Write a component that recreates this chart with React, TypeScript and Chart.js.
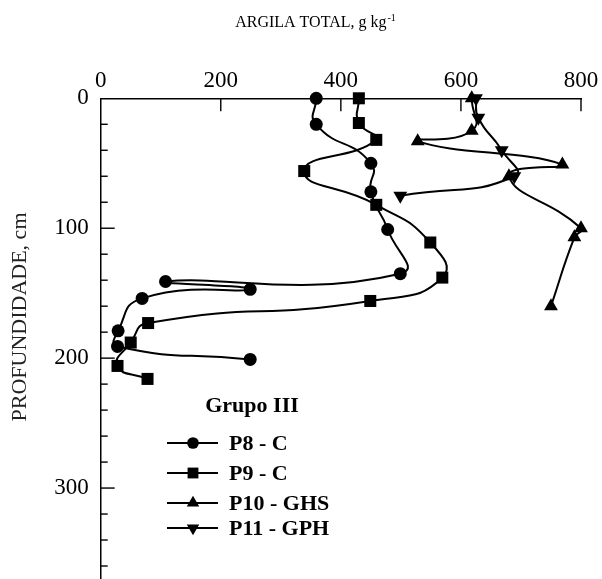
import React, { useEffect, useRef } from "react";
import { Chart, registerables } from "chart.js";

Chart.register(...registerables);

const P8_X = [359, 359, 450, 450, 478, 499, 108, 249, 69, 29, 28, 249];
const P8_Y = [0, 20, 50, 72, 101, 135, 141, 147, 154, 179, 191, 201];
const P9_X = [430, 430, 459, 339, 459, 549, 569, 449, 79, 50, 28, 78];
const P9_Y = [0, 19, 32, 56, 82, 111, 138, 156, 173, 188, 206, 216];
const P10_X = [618, 618, 528, 769, 680, 800, 789, 750];
const P10_Y = [0, 25, 33, 51, 60, 100, 107, 160];
const P11_X = [625, 629, 668, 689, 499];
const P11_Y = [0, 15, 40, 60, 75];

const SERIES_LABELS = ["P8 - C", "P9 - C", "P10 - GHS", "P11 - GPH"];
const LEGEND_TITLE = "Grupo III";
const X_TITLE = "ARGILA TOTAL, g kg";
const X_TITLE_SUP = "-1";
const Y_TITLE = "PROFUNDIDADE, cm";
const X_MAJOR_TICKS = [0, 200, 400, 600, 800];
const Y_MAJOR_TICKS = [0, 100, 200, 300];

const FONT = '"Liberation Serif", "Times New Roman", serif';

const toPoints = (xs: number[], ys: number[]) => xs.map((x, i) => ({ x, y: ys[i] }));

const styles = [
  { pointStyle: "circle", radius: 6.5, rotation: 0 },
  { pointStyle: "rect", radius: 8.5, rotation: 0 },
  { pointStyle: "triangle", radius: 8, rotation: 0 },
  { pointStyle: "triangle", radius: 8, rotation: 180 },
];

function drawMarker(ctx: CanvasRenderingContext2D, style: string, r: number, rot: number, x: number, y: number) {
  ctx.beginPath();
  if (style === "circle") {
    ctx.arc(x, y, r, 0, Math.PI * 2);
  } else if (style === "rect") {
    const s = r * Math.SQRT1_2;
    ctx.rect(x - s, y - s, 2 * s, 2 * s);
  } else {
    let rad = (rot * Math.PI) / 180;
    ctx.moveTo(x + Math.sin(rad) * r, y - Math.cos(rad) * r);
    rad += (2 * Math.PI) / 3;
    ctx.lineTo(x + Math.sin(rad) * r, y - Math.cos(rad) * r);
    rad += (2 * Math.PI) / 3;
    ctx.lineTo(x + Math.sin(rad) * r, y - Math.cos(rad) * r);
    ctx.closePath();
  }
  ctx.fill();
}

const zeroPad = (s: any) => {
  s.paddingTop = 0;
  s.paddingBottom = 0;
  s.paddingLeft = 0;
  s.paddingRight = 0;
};

const customPlugin = {
  id: "custom",
  afterDraw(chart: any) {
    const ctx = chart.ctx;
    const xs = chart.scales.x;
    const ys = chart.scales.y;
    const area = chart.chartArea;
    ctx.save();
    ctx.strokeStyle = "#000";
    ctx.lineWidth = 1.4;
    for (const v of X_MAJOR_TICKS) {
      if (v === 0) continue;
      const px = xs.getPixelForValue(v);
      ctx.beginPath();
      ctx.moveTo(px, area.top);
      ctx.lineTo(px, area.top + 13);
      ctx.stroke();
    }
    for (let v = 20; v <= 360; v += 20) {
      const py = ys.getPixelForValue(v);
      const len = v % 100 === 0 ? 14 : 7;
      ctx.beginPath();
      ctx.moveTo(area.left, py);
      ctx.lineTo(area.left + len, py);
      ctx.stroke();
    }
    ctx.fillStyle = "#000";
    ctx.font = `16px ${FONT}`;
    const w1 = ctx.measureText(X_TITLE).width;
    ctx.font = `10px ${FONT}`;
    const w2 = ctx.measureText(X_TITLE_SUP).width;
    const startX = 315 - (w1 + w2) / 2;
    ctx.textBaseline = "alphabetic";
    ctx.textAlign = "left";
    ctx.font = `16px ${FONT}`;
    ctx.fillText(X_TITLE, startX, 27);
    ctx.font = `10px ${FONT}`;
    ctx.fillText(X_TITLE_SUP, startX + w1 + 1, 21);
    ctx.save();
    ctx.translate(20, 317);
    ctx.rotate(-Math.PI / 2);
    ctx.font = `22px ${FONT}`;
    ctx.textAlign = "center";
    ctx.textBaseline = "middle";
    ctx.fillStyle = "#222";
    ctx.fillText(Y_TITLE, 0, 0);
    ctx.restore();
    ctx.fillStyle = "#000";
    ctx.font = `bold 22px ${FONT}`;
    ctx.textAlign = "center";
    ctx.textBaseline = "middle";
    ctx.fillText(LEGEND_TITLE, 252, 406);
    const rows = [443, 473, 503, 528];
    chart.data.datasets.forEach((ds: any, i: number) => {
      const y = rows[i];
      ctx.strokeStyle = "#000";
      ctx.lineWidth = 2;
      ctx.beginPath();
      ctx.moveTo(167, y);
      ctx.lineTo(218, y);
      ctx.stroke();
      const st = styles[i];
      ctx.fillStyle = "#000";
      drawMarker(ctx, st.pointStyle, st.radius * 0.9, st.rotation, 193, y);
      ctx.font = `bold 22px ${FONT}`;
      ctx.textAlign = "left";
      ctx.textBaseline = "middle";
      ctx.fillText(ds.label, 229, y + 1);
    });
    ctx.restore();
  },
};

export default function App() {
  const ref = useRef<HTMLCanvasElement | null>(null);
  useEffect(() => {
    if (!ref.current) return;
    const data = [
      toPoints(P8_X, P8_Y),
      toPoints(P9_X, P9_Y),
      toPoints(P10_X, P10_Y),
      toPoints(P11_X, P11_Y),
    ];
    const chart = new Chart(ref.current, {
      type: "scatter",
      data: {
        datasets: data.map((d, i) => ({
          label: SERIES_LABELS[i],
          data: d,
          showLine: true,
          clip: false as any,
          borderColor: "#000",
          backgroundColor: "#000",
          borderWidth: 2,
          pointStyle: styles[i].pointStyle as any,
          pointRadius: styles[i].radius,
          pointRotation: styles[i].rotation,
          pointBorderWidth: 0,
          tension: 0.55,
          capBezierPoints: false,
        })),
      },
      options: {
        animation: false,
        responsive: false,
        devicePixelRatio: 1,
        layout: { autoPadding: false, padding: { left: 0, right: 21, top: 0, bottom: 0 } },
        elements: { line: { capBezierPoints: false } },
        plugins: {
          legend: { display: false },
          tooltip: { enabled: false },
        },
        scales: {
          x: {
            type: "linear",
            position: "top",
            min: 0,
            max: 800,
            afterFit: (s: any) => {
              s.height = 98.3;
              zeroPad(s);
            },
            afterBuildTicks: (s: any) => {
              s.ticks = X_MAJOR_TICKS.map((v) => ({ value: v }));
            },
            ticks: {
              color: "#000",
              font: { family: FONT, size: 23 },
              padding: 4,
              maxRotation: 0,
            },
            grid: { display: false, drawTicks: false },
            border: { display: true, color: "#000", width: 1.5 },
          },
          y: {
            type: "linear",
            reverse: true,
            min: 0,
            max: 370,
            afterFit: (s: any) => {
              s.width = 100.7;
              zeroPad(s);
            },
            afterBuildTicks: (s: any) => {
              s.ticks = Y_MAJOR_TICKS.map((v) => ({ value: v }));
            },
            ticks: {
              color: "#000",
              font: { family: FONT, size: 23 },
              padding: 12,
            },
            grid: { display: false, drawTicks: false },
            border: { display: true, color: "#000", width: 1.5 },
          },
        },
      },
      plugins: [customPlugin],
    });
    return () => chart.destroy();
  }, []);
  return (
    <div style={{ position: "fixed", left: 0, top: 0, width: 602, height: 579, background: "#fff" }}>
      <canvas ref={ref} width={602} height={579} />
    </div>
  );
}
